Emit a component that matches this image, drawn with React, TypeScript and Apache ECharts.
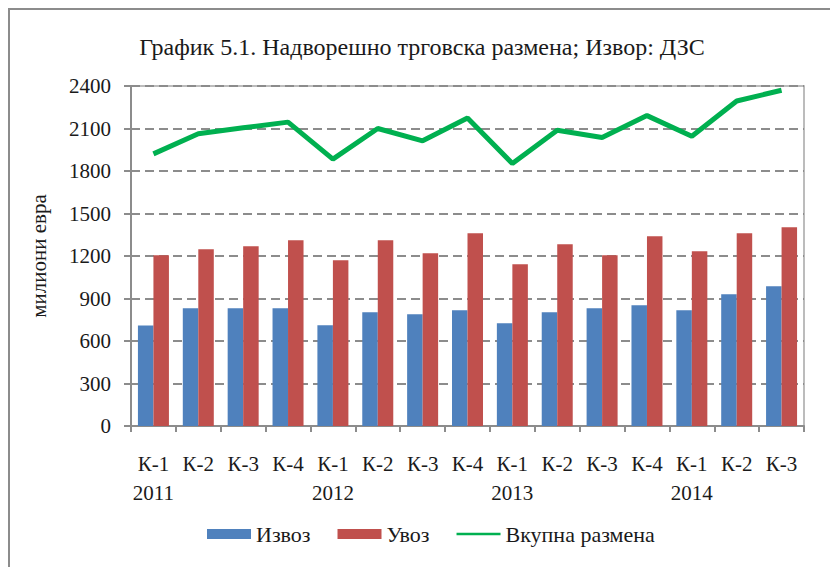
import React, { useEffect, useRef } from "react";
import * as echarts from "echarts";

const quarters = ["К-1", "К-2", "К-3", "К-4", "К-1", "К-2", "К-3", "К-4", "К-1", "К-2", "К-3", "К-4", "К-1", "К-2", "К-3"];
const years = ["2011", "", "", "", "2012", "", "", "", "2013", "", "", "", "2014", "", ""];
const exportsData = [710, 831, 831, 831, 711, 803, 789, 817, 725, 803, 831, 853, 817, 930, 986];
const importsData = [1205, 1247, 1269, 1311, 1170, 1311, 1219, 1360, 1142, 1283, 1205, 1339, 1233, 1360, 1403];
const totalData = [1921, 2063, 2105, 2145, 1884, 2100, 2013, 2174, 1853, 2088, 2036, 2191, 2045, 2294, 2370];

const FONT = "'Liberation Serif', serif";
const GRAY = "#8c8c8c";

export default function App() {
  const ref = useRef<HTMLDivElement>(null);
  useEffect(() => {
    document.body.style.margin = "0";
    const chart = echarts.init(ref.current!, undefined, { renderer: "svg" });
    const categories = quarters.map((q, i) => q + "\n" + years[i]);
    chart.setOption({
      animation: false,
      textStyle: { fontFamily: FONT },
      graphic: [
        {
          type: "rect",
          shape: { x: 9, y: 9, width: 1000, height: 1000 },
          style: { fill: "none", stroke: GRAY, lineWidth: 2 },
          silent: true,
        },
        {
          type: "text",
          x: 422,
          y: 47,
          style: {
            text: "График 5.1. Надворешно трговска размена; Извор: ДЗС",
            fontFamily: FONT,
            fontSize: 24,
            fill: "#1a1a1a",
            textAlign: "center",
            textVerticalAlign: "middle",
          },
        },
      ],
      grid: {
        left: 131,
        right: 26,
        top: 86,
        bottom: 141,
        show: true,
        borderColor: "#a6a6a6",
        borderWidth: 1.5,
      },
      legend: {
        left: 207,
        top: 523,
        padding: 0,
        itemWidth: 44,
        itemHeight: 10,
        itemGap: 27,
        textStyle: { fontFamily: FONT, fontSize: 22, color: "#1a1a1a" },
        data: [
          { name: "Извоз", icon: "rect" },
          { name: "Увоз", icon: "rect" },
          {
            name: "Вкупна размена",
            icon: "path://M0,0 L44,0 L44,2.5 L0,2.5 Z",
            itemStyle: { color: "#00B050" },
          },
        ],
      },
      xAxis: {
        type: "category",
        data: categories,
        axisLine: { lineStyle: { color: GRAY, width: 2 } },
        axisTick: { show: true, length: 6, lineStyle: { color: GRAY, width: 2 } },
        axisLabel: {
          interval: 0,
          margin: 23,
          fontFamily: FONT,
          fontSize: 21,
          lineHeight: 29,
          color: "#1a1a1a",
        },
      },
      yAxis: {
        type: "value",
        min: 0,
        max: 2400,
        interval: 300,
        name: "милиони евра",
        nameLocation: "middle",
        nameGap: 82,
        nameRotate: 90,
        nameTextStyle: { fontFamily: FONT, fontSize: 21, color: "#1a1a1a" },
        axisLine: { show: true, lineStyle: { color: GRAY, width: 2 } },
        axisTick: { show: true, length: 7, lineStyle: { color: GRAY, width: 2 } },
        axisLabel: {
          margin: 20,
          fontFamily: FONT,
          fontSize: 21,
          color: "#1a1a1a",
          formatter: (v: number) => String(v),
        },
        splitLine: { lineStyle: { color: GRAY, width: 2, type: [9, 5] } },
      },
      series: [
        {
          name: "Извоз",
          type: "bar",
          data: exportsData,
          barWidth: 15.5,
          barGap: "0%",
          itemStyle: { color: "#4F81BD" },
        },
        {
          name: "Увоз",
          type: "bar",
          data: importsData,
          barWidth: 15.5,
          barGap: "0%",
          itemStyle: { color: "#C0504D" },
        },
        {
          name: "Вкупна размена",
          type: "line",
          data: totalData,
          symbol: "none",
          showSymbol: false,
          lineStyle: { color: "#00B050", width: 5 },
          itemStyle: { color: "#00B050" },
        },
      ],
    });
    return () => chart.dispose();
  }, []);
  return <div ref={ref} style={{ width: 830, height: 567 }} />;
}
